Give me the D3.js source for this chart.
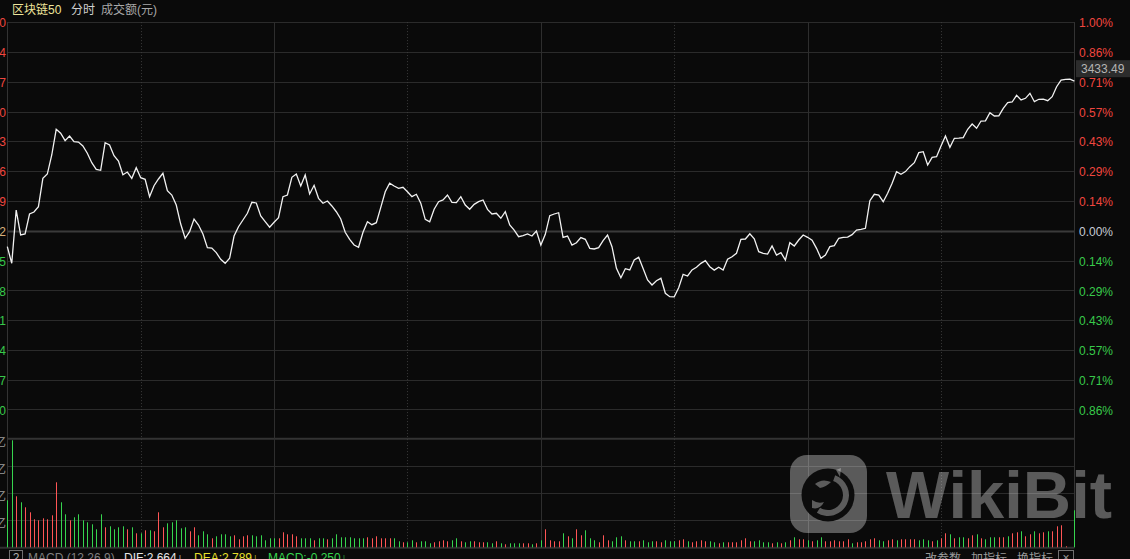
<!DOCTYPE html>
<html><head><meta charset="utf-8">
<script src="https://cdn.jsdelivr.net/npm/d3@7"></script>
<style>
html,body{margin:0;padding:0;background:#0a0a0a;overflow:hidden}
svg{display:block}
text{font-family:"Liberation Sans","Noto Sans CJK SC",sans-serif}
</style></head><body>
<svg id="c" width="1130" height="559"></svg>
<script>
const indexName = "区块链50";
const headerLabels = ["分时", "成交额(元)"];
const prevClose = 3408.42;
const latestPrice = 3433.49;
const prices = [
3405.81,3403.09,3411.80,3407.72,3407.88,3411.15,3411.48,3412.34,3416.98,3417.68,
3420.79,3424.99,3424.34,3423.13,3423.89,3422.96,3422.90,3422.26,3421.07,3419.53,
3418.45,3418.29,3422.80,3422.42,3420.68,3419.81,3417.57,3418.01,3416.98,3418.71,
3417.08,3416.82,3413.98,3415.77,3416.87,3417.80,3414.96,3414.25,3412.62,3409.51,
3407.18,3408.26,3410.33,3409.35,3407.88,3405.64,3405.59,3404.83,3403.75,3403.09,
3403.91,3407.55,3409.07,3410.17,3411.26,3413.06,3412.95,3410.82,3409.89,3408.98,
3409.79,3410.54,3413.98,3414.25,3417.15,3417.68,3415.72,3417.52,3414.42,3415.84,
3413.71,3412.90,3413.27,3412.46,3411.52,3410.33,3408.16,3407.01,3406.08,3405.71,
3408.16,3409.89,3409.40,3409.73,3412.24,3414.79,3416.17,3415.72,3415.35,3415.51,
3414.79,3413.98,3414.37,3412.90,3410.28,3409.89,3411.92,3413.16,3413.44,3414.25,
3413.06,3413.02,3413.98,3412.62,3411.92,3412.73,3413.16,3413.44,3411.90,3411.15,
3411.26,3410.45,3411.52,3409.35,3408.53,3407.44,3407.60,3407.88,3407.55,3408.37,
3406.08,3407.83,3410.87,3411.15,3411.36,3407.34,3407.55,3406.06,3406.46,3407.30,
3407.01,3405.54,3405.43,3405.64,3406.79,3407.72,3405.81,3402.28,3400.74,3402.21,
3402.00,3403.63,3404.07,3402.25,3400.36,3399.55,3400.25,3400.64,3398.19,3397.64,
3397.62,3399.11,3401.30,3401.02,3402.02,3402.44,3403.09,3403.52,3402.54,3401.98,
3402.46,3402.00,3403.75,3404.17,3404.73,3407.01,3407.06,3407.91,3407.10,3404.99,
3404.73,3404.61,3405.92,3404.45,3404.83,3403.63,3406.46,3405.92,3406.90,3407.72,
3407.34,3406.88,3405.54,3403.91,3404.45,3405.81,3405.97,3407.18,3407.34,3407.36,
3407.77,3408.53,3408.65,3408.81,3413.32,3414.37,3414.25,3413.16,3414.53,3416.17,
3418.06,3417.64,3418.08,3418.88,3419.53,3421.17,3421.33,3419.16,3420.41,3420.51,
3422.26,3423.89,3422.05,3423.52,3423.54,3423.62,3424.99,3425.85,3425.15,3426.34,
3426.36,3427.70,3427.16,3427.18,3428.42,3429.34,3429.45,3430.54,3429.78,3430.05,
3430.87,3429.50,3429.89,3429.91,3429.66,3430.32,3431.95,3433.04,3433.16,3433.18,
3432.85];
// turnover per minute, 亿元
const volumes = [
0.47,1.07,0.51,0.45,0.40,0.35,0.28,0.27,0.29,0.28,
0.32,0.65,0.45,0.33,0.27,0.30,0.33,0.27,0.25,0.23,
0.18,0.33,0.20,0.21,0.18,0.20,0.21,0.18,0.20,0.14,
0.14,0.17,0.17,0.16,0.35,0.20,0.24,0.25,0.27,0.19,
0.20,0.16,0.20,0.12,0.16,0.13,0.09,0.11,0.13,0.13,
0.11,0.12,0.08,0.11,0.12,0.12,0.11,0.12,0.07,0.09,
0.09,0.09,0.15,0.13,0.13,0.11,0.09,0.09,0.09,0.07,
0.09,0.09,0.08,0.09,0.13,0.10,0.10,0.10,0.09,0.09,
0.09,0.10,0.09,0.11,0.09,0.09,0.09,0.09,0.06,0.05,
0.05,0.07,0.05,0.06,0.06,0.04,0.05,0.06,0.07,0.06,
0.07,0.09,0.06,0.05,0.06,0.06,0.05,0.05,0.05,0.04,
0.06,0.04,0.03,0.04,0.04,0.04,0.04,0.04,0.03,0.04,
0.07,0.18,0.07,0.06,0.06,0.14,0.11,0.09,0.18,0.12,
0.17,0.09,0.07,0.05,0.12,0.07,0.06,0.10,0.11,0.07,
0.06,0.06,0.06,0.07,0.05,0.06,0.06,0.05,0.07,0.06,
0.06,0.07,0.08,0.06,0.05,0.06,0.07,0.06,0.06,0.05,
0.04,0.05,0.05,0.05,0.05,0.07,0.09,0.06,0.06,0.07,
0.05,0.05,0.04,0.05,0.04,0.05,0.07,0.10,0.08,0.08,
0.07,0.06,0.07,0.10,0.06,0.06,0.07,0.06,0.06,0.08,
0.04,0.05,0.05,0.06,0.08,0.09,0.07,0.06,0.07,0.08,
0.07,0.08,0.08,0.08,0.08,0.07,0.08,0.07,0.06,0.07,
0.09,0.14,0.13,0.09,0.10,0.10,0.09,0.12,0.13,0.09,
0.08,0.10,0.10,0.10,0.10,0.11,0.14,0.15,0.16,0.11,
0.13,0.16,0.14,0.15,0.16,0.16,0.21,0.22,0.01,0.00,
0.37];
// u = minute closed up (red), d = down (green)
const volDir = ("dduduuuuuu"+"uudduddddd"+"dduddddudu"+"duduuudddd"+"duuddduddd"+
  "duuuuddddd"+"duuuuudddu"+"dduddddddd"+"duuuuuuddu"+"dduddduuuu"+
  "ddudduuudd"+"ududdduudu"+"duuuududuu"+"ddduuudddu"+"dduddduudd"+
  "duuduuuudd"+"uduuuuuudd"+"ddudududuu"+"dudduuuuuu"+"duuuuudduu"+
  "duuuudddud"+"uududduudu"+"ddduuduudu"+"uduuduuuuu"+"d").split("");

const pctTicks = [1.0, 0.857, 0.714, 0.571, 0.429, 0.286, 0.143, 0, -0.143, -0.286, -0.429, -0.571, -0.714, -0.857];
const rightTickLabels = ["1.00%","0.86%","0.71%","0.57%","0.43%","0.29%","0.14%","0.00%","0.14%","0.29%","0.43%","0.57%","0.71%","0.86%"];
const leftTickLabels = ["3442.50","3437.64","3432.77","3427.90","3423.03","3418.16","3413.29","3408.42","3403.55","3398.68","3393.81","3388.94","3384.07","3379.20"];
const volTicks = [1.09, 0.8175, 0.545, 0.2725];
const volTickLabels = ["1.09亿","0.82亿","0.55亿","0.27亿"];
const timeTicks = [30, 60, 90, 120, 150, 180, 210];
const indicatorName = "MACD (12,26,9)";
const indicatorValues = ["DIF:2.664↓", "DEA:2.789↓", "MACD:-0.250↓"];
const toolLabels = ["改参数", "加指标", "换指标"];
const watermark = "WikiBit";

const UP = "#ff5555", DOWN = "#36d44e";
const AX_UP = "#f0463f", AX_DOWN = "#38c94a", AX_FLAT = "#c6cad4";

const svg = d3.select("#c");
svg.append("rect").attr("width",1130).attr("height",559).attr("fill","#0a0a0a");

const L = 7.3, R = 1074.4, TOP = 22.1, MAINB = 439.3, VTOP = 438.3, VBOT = 547.3;
const x = d3.scaleLinear().domain([0, 240]).range([L, R]);
const y = d3.scaleLinear().domain([prevClose*0.99, prevClose*1.01]).range([MAINB, TOP]);
const yv = d3.scaleLinear().domain([0, 1.09]).range([VBOT, VTOP]);
const pctPrice = p => prevClose*(1+p/100);

// horizontal grid main
svg.append("g").selectAll("line").data(pctTicks).join("line")
  .attr("x1", L).attr("x2", R)
  .attr("y1", d => Math.round(y(pctPrice(d)))+0.5).attr("y2", d => Math.round(y(pctPrice(d)))+0.5)
  .attr("stroke", d => d === 0 ? "#3a3a3a" : "#2b2b2b")
  .attr("stroke-width", d => d === 0 ? 2 : 1);
// volume grid
svg.append("g").selectAll("line").data(volTicks.slice(1)).join("line")
  .attr("x1", L).attr("x2", R)
  .attr("y1", d => Math.round(yv(d))+0.5).attr("y2", d => Math.round(yv(d))+0.5)
  .attr("stroke", "#2b2b2b");
svg.append("line").attr("x1", L).attr("x2", R).attr("y1", VTOP+0.5).attr("y2", VTOP+0.5)
  .attr("stroke", "#333").attr("stroke-width", 2);
svg.append("line").attr("x1", 0).attr("x2", R).attr("y1", VBOT+0.5).attr("y2", VBOT+0.5)
  .attr("stroke", "#303030").attr("stroke-width", 2);
// vertical grid
svg.append("g").selectAll("line").data(timeTicks).join("line")
  .attr("x1", d => Math.round(x(d))+0.5).attr("x2", d => Math.round(x(d))+0.5)
  .attr("y1", TOP).attr("y2", VBOT)
  .attr("stroke", d => d % 60 === 0 ? "#2e2e2e" : "#3a3a3a")
  .attr("stroke-dasharray", d => d % 60 === 0 ? null : "1,2");
// borders
[L, R].forEach(v => svg.append("line").attr("x1", Math.round(v)+0.5).attr("x2", Math.round(v)+0.5)
  .attr("y1", TOP).attr("y2", VBOT).attr("stroke", "#333"));

// watermark (semi-transparent overlay)
const wm = svg.append("g");
wm.append("rect").attr("x",790).attr("y",455).attr("width",77).attr("height",78).attr("rx",17)
  .attr("fill","#fff").attr("fill-opacity",0.33);
wm.append("circle").attr("cx",828).attr("cy",495).attr("r",26.5).attr("fill","#0c0c0c");
wm.append("path").attr("transform","translate(828,495)")
  .attr("d", d3.arc().innerRadius(15).outerRadius(21).startAngle(0.35).endAngle(3.7)())
  .attr("fill","#fff").attr("fill-opacity",0.33);
wm.append("path").attr("d","M836,470 l5,-2 l-1,9 z M815,484 q7,-6 16,-2 q-5,5 -11,6 z M812,500 q6,4 12,2 q-4,8 -12,6 z")
  .attr("fill","#fff").attr("fill-opacity",0.33);
wm.append("text").attr("x",886).attr("y",518).attr("font-size",66).attr("font-weight",700)
  .attr("textLength",226).attr("lengthAdjust","spacingAndGlyphs")
  .attr("fill","#fff").attr("fill-opacity",0.33).text(watermark);

// volume bars
svg.append("g").selectAll("line").data(volumes).join("line")
  .attr("x1", (d,i) => Math.round(x(i))+0.5).attr("x2", (d,i) => Math.round(x(i))+0.5)
  .attr("y1", yv(0)).attr("y2", d => yv(d))
  .attr("stroke", (d,i) => volDir[i] === "u" ? UP : DOWN)
  .attr("stroke-width", 1);

// price line
svg.append("path").datum(prices)
  .attr("d", d3.line().x((d,i) => x(i)).y(d => y(d)))
  .attr("fill","none").attr("stroke","#f2f2f2").attr("stroke-width",1.3);

// right axis labels
svg.append("g").selectAll("text").data(pctTicks).join("text")
  .attr("x", 1079).attr("y", d => y(pctPrice(d))+1).attr("dy","0.35em")
  .attr("font-size", 12)
  .attr("fill", d => d > 0 ? AX_UP : d < 0 ? AX_DOWN : AX_FLAT)
  .text((d,i) => rightTickLabels[i]);
// left axis labels (clipped at the edge, as in the reference)
svg.append("g").selectAll("text").data(pctTicks).join("text")
  .attr("x", 6).attr("y", d => y(pctPrice(d))+1).attr("dy","0.35em")
  .attr("text-anchor","end").attr("font-size", 12)
  .attr("fill", d => d > 0 ? AX_UP : d < 0 ? AX_DOWN : "#d9b07a")
  .text((d,i) => leftTickLabels[i]);
svg.append("g").selectAll("text").data(volTicks).join("text")
  .attr("x", 6).attr("y", d => yv(d)+4).attr("dy","0.35em")
  .attr("text-anchor","end").attr("font-size", 12).attr("fill","#9a9a9a")
  .text((d,i) => volTickLabels[i]);

// latest price tag
const lastY = y(prices[prices.length-1]);
svg.append("rect").attr("x",1076).attr("y",lastY-21).attr("width",54).attr("height",17).attr("fill","#2c2c2c");
svg.append("text").attr("x",1081).attr("y",lastY-12.5).attr("dy","0.35em").attr("font-size",12)
  .attr("fill","#b4b4b4").text(latestPrice.toFixed(2));

// header
svg.append("text").attr("x",12).attr("y",14).attr("font-size",12).attr("fill","#eee49a").text(indexName);
svg.append("text").attr("x",71).attr("y",14).attr("font-size",12).attr("fill","#d0d0d0").text(headerLabels[0]);
svg.append("text").attr("x",101).attr("y",14).attr("font-size",12).attr("fill","#a8a8a8").text(headerLabels[1]);

// bottom indicator row
svg.append("rect").attr("x",9.5).attr("y",550.5).attr("width",13).attr("height",13).attr("fill","none").attr("stroke","#707070");
svg.append("text").attr("x",16).attr("y",562).attr("text-anchor","middle").attr("font-size",12).attr("fill","#b0b0b0").text("2");
svg.append("text").attr("x",28).attr("y",562).attr("font-size",12).attr("fill","#808080").text(indicatorName);
const indColors = ["#e6e6e6", "#e8e02a", "#36d44e"];
const indX = [124, 194, 268];
indicatorValues.forEach((t,i) => svg.append("text").attr("x",indX[i]).attr("y",562).attr("font-size",12)
  .attr("fill",indColors[i]).text(t));
const toolX = [925, 971, 1017];
toolLabels.forEach((t,i) => svg.append("text").attr("x",toolX[i]).attr("y",563).attr("font-size",12)
  .attr("fill","#9a9a9a").text(t));
svg.append("rect").attr("x",1058.5).attr("y",550.5).attr("width",15).attr("height",13).attr("fill","none").attr("stroke","#707070");
svg.append("text").attr("x",1066).attr("y",562).attr("text-anchor","middle").attr("font-size",12).attr("fill","#9a9a9a").text("×");
</script>
</body></html>
